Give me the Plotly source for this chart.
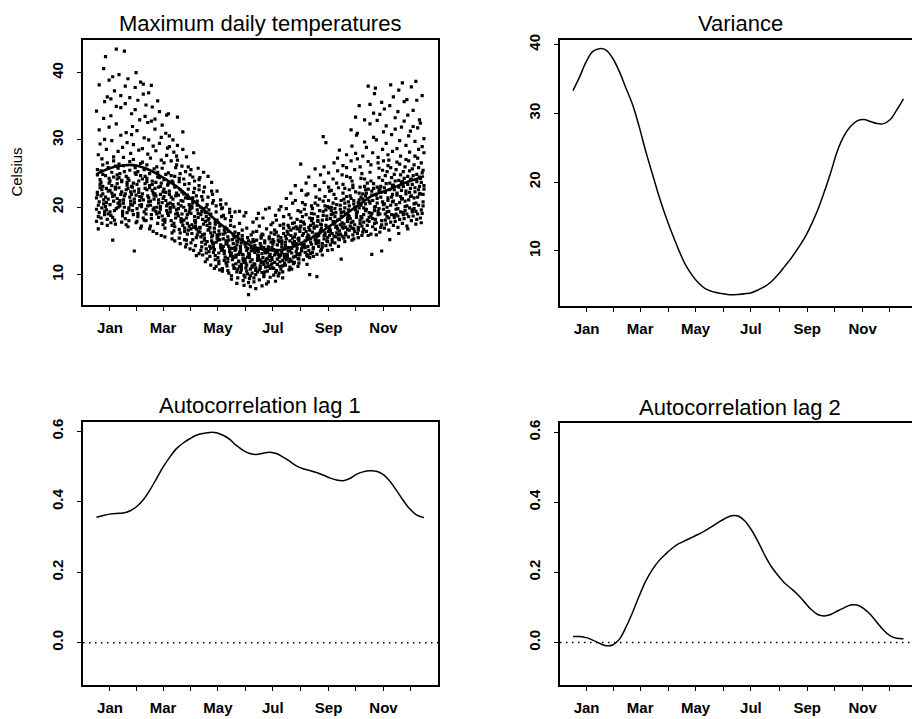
import plotly.graph_objects as go

# ---------------- data ----------------
month_days = [16, 46, 75, 106, 136, 167, 197, 228, 259, 289, 320, 350]
month_labels = ["Jan", "", "Mar", "", "May", "", "Jul", "", "Sep", "", "Nov", ""]

temp_ticks = [10, 20, 30, 40]
acf_ticks = [0.0, 0.2, 0.4, 0.6]
acf_ticktext = ["0.0", "0.2", "0.4", "0.6"]

# maximum daily temperatures, grouped in 5-day bins (bin k -> days 5k+1 .. 5k+5)
temps_by_bin = [
    [21.4, 24.8, 18.6, 38.2, 22.9, 19.7, 25.6, 20.3, 31.5, 23.4, 17.9, 21.9, 27.8, 19.2, 24.1, 34.3, 22.2, 16.8, 20.8, 29.4],
    [23.7, 19.9, 26.3, 21.1, 35.7, 18.4, 22.6, 24.9, 20.5, 30.1, 25.4, 17.6, 23.1, 40.6, 19.4, 21.7, 27.2, 22.0, 33.2, 18.9],
    [20.1, 22.8, 36.4, 19.0, 24.3, 21.5, 28.6, 18.2, 25.9, 23.6, 42.4, 20.7, 17.3, 22.4, 31.9, 24.7, 19.6, 26.6, 21.2, 38.9],
    [22.5, 18.8, 25.2, 39.4, 20.9, 23.9, 17.7, 29.9, 21.6, 24.5, 19.3, 36.1, 22.1, 15.1, 26.9, 20.4, 33.6, 23.2, 18.5, 27.5],
    [19.5, 23.0, 43.5, 21.3, 25.8, 18.1, 22.7, 32.4, 24.2, 20.0, 37.3, 26.1, 19.8, 23.5, 28.3, 21.8, 17.5, 35.0, 24.8, 20.6],
    [24.4, 20.2, 34.8, 22.3, 18.7, 26.4, 21.0, 30.7, 23.8, 19.1, 39.7, 25.0, 21.9, 17.8, 28.9, 22.9, 20.5, 36.6, 24.0, 19.4],
    [21.1, 25.3, 18.3, 31.1, 23.3, 20.6, 43.2, 22.0, 24.6, 19.2, 27.4, 21.7, 35.4, 17.4, 23.7, 26.2, 20.0, 38.0, 22.6, 29.6],
    [22.8, 19.6, 26.8, 20.9, 33.9, 24.3, 18.0, 21.5, 28.0, 23.1, 39.1, 19.9, 25.5, 22.3, 30.8, 17.1, 24.0, 36.3, 20.4, 21.9],
    [20.3, 23.6, 13.5, 25.1, 21.8, 32.0, 18.9, 22.4, 37.8, 24.9, 19.5, 27.1, 21.2, 34.5, 17.7, 23.0, 29.3, 20.7, 25.9, 40.0],
    [23.4, 19.1, 28.5, 21.0, 24.7, 17.9, 35.9, 22.2, 20.3, 26.5, 31.4, 18.6, 23.9, 21.6, 38.6, 19.8, 25.3, 22.7, 33.0, 16.9],
    [21.5, 24.2, 18.4, 30.3, 22.8, 20.1, 26.7, 36.8, 19.3, 23.5, 17.2, 28.7, 21.1, 25.6, 33.5, 20.4, 22.0, 38.3, 18.1, 24.6],
    [19.7, 22.6, 32.6, 20.8, 25.0, 18.0, 23.8, 27.9, 21.4, 16.8, 35.2, 24.3, 20.2, 30.0, 22.9, 19.0, 26.3, 21.7, 37.0, 23.2],
    [20.9, 18.3, 23.4, 29.1, 21.8, 17.2, 38.1, 22.5, 19.6, 25.7, 20.3, 32.8, 23.9, 16.4, 21.2, 27.3, 18.9, 34.9, 22.1, 19.9],
    [22.0, 19.4, 26.0, 17.6, 21.1, 31.6, 23.7, 20.0, 35.8, 18.5, 22.8, 28.4, 16.1, 24.5, 20.6, 33.1, 21.7, 19.0, 25.2, 23.0],
    [19.2, 23.1, 30.4, 20.7, 17.4, 24.4, 21.9, 27.0, 18.7, 22.3, 34.2, 20.1, 15.8, 25.8, 21.3, 29.5, 19.7, 23.6, 32.2, 18.1],
    [21.6, 18.2, 24.9, 20.2, 28.8, 22.7, 16.9, 31.0, 19.5, 23.3, 26.6, 17.8, 21.0, 33.7, 19.1, 24.1, 15.6, 22.2, 27.7, 20.5],
    [18.8, 22.4, 20.0, 26.9, 17.3, 23.5, 30.6, 19.8, 21.5, 16.2, 25.1, 29.0, 20.6, 18.0, 23.9, 33.9, 21.9, 19.3, 24.7, 15.3],
    [20.4, 17.6, 23.0, 19.0, 27.6, 21.2, 16.5, 24.6, 18.4, 22.1, 30.0, 20.0, 15.0, 25.9, 19.6, 23.7, 28.2, 17.1, 21.7, 26.3],
    [19.1, 21.8, 16.7, 25.0, 18.3, 33.4, 20.5, 15.4, 22.6, 17.9, 27.0, 19.8, 23.8, 14.6, 21.0, 29.2, 18.7, 24.3, 16.2, 20.2],
    [17.8, 20.9, 24.2, 16.4, 19.5, 22.3, 28.6, 18.1, 15.2, 21.4, 26.1, 17.3, 20.0, 23.4, 14.1, 19.0, 31.2, 22.0, 16.9, 25.3],
    [18.4, 16.0, 21.3, 19.3, 24.8, 15.1, 17.6, 22.7, 20.4, 13.8, 27.5, 18.9, 16.6, 23.5, 19.7, 14.5, 21.8, 26.0, 17.2, 20.0],
    [16.8, 19.9, 15.2, 22.2, 18.0, 25.6, 17.4, 20.7, 13.6, 23.9, 19.1, 16.1, 21.4, 28.1, 18.6, 14.7, 20.2, 24.5, 17.0, 22.8],
    [17.7, 15.5, 20.3, 18.5, 23.2, 14.3, 16.8, 19.6, 25.8, 13.1, 18.0, 21.7, 15.9, 19.1, 22.6, 17.2, 12.8, 20.9, 16.4, 24.1],
    [16.3, 18.9, 14.8, 21.1, 17.5, 24.4, 15.6, 19.4, 12.9, 22.3, 16.9, 20.0, 14.1, 18.2, 25.2, 17.0, 13.6, 21.6, 15.9, 19.8],
    [15.4, 17.9, 13.8, 20.4, 16.6, 23.0, 14.5, 18.6, 12.3, 21.5, 16.0, 19.2, 13.2, 17.3, 24.6, 15.1, 11.9, 20.0, 14.9, 18.1],
    [16.7, 14.2, 19.0, 15.6, 21.9, 13.4, 17.6, 11.4, 15.0, 20.6, 18.3, 12.7, 16.2, 23.7, 14.7, 19.6, 17.0, 13.9, 22.4, 15.8],
    [14.6, 16.9, 12.8, 19.3, 15.4, 21.0, 13.7, 17.5, 11.2, 18.1, 14.1, 16.3, 12.2, 20.2, 15.9, 13.3, 10.9, 17.9, 14.8, 22.4],
    [15.1, 13.2, 17.2, 14.4, 19.8, 12.5, 16.5, 10.7, 14.0, 18.6, 15.7, 12.0, 16.0, 21.1, 13.6, 17.7, 11.6, 15.2, 20.4, 13.9],
    [13.8, 16.0, 12.1, 18.3, 14.6, 10.5, 15.3, 13.1, 17.0, 11.7, 19.9, 14.2, 16.6, 12.6, 15.0, 10.9, 18.8, 13.5, 16.2, 20.5],
    [14.5, 12.4, 16.4, 13.4, 18.0, 11.3, 15.6, 10.2, 13.9, 17.3, 14.9, 11.9, 15.1, 19.7, 12.8, 16.8, 10.6, 14.2, 19.2, 13.0],
    [13.2, 15.2, 11.4, 17.1, 14.0, 9.8, 12.7, 15.9, 10.9, 13.6, 18.6, 12.2, 14.6, 11.0, 16.3, 9.3, 13.9, 12.5, 15.5, 19.3],
    [12.6, 14.4, 10.8, 16.1, 13.3, 11.6, 15.0, 9.5, 12.0, 17.6, 13.8, 10.4, 14.9, 11.9, 19.4, 12.9, 8.7, 15.7, 13.0, 11.2],
    [13.4, 11.5, 15.3, 12.4, 9.9, 14.2, 10.7, 16.6, 12.9, 8.4, 13.7, 11.1, 15.8, 12.1, 18.7, 10.3, 14.7, 13.0, 9.1, 11.8],
    [12.0, 14.1, 10.5, 15.5, 13.1, 9.6, 11.7, 16.9, 12.6, 7.0, 14.5, 11.0, 13.6, 10.1, 15.0, 12.3, 19.2, 11.4, 13.9, 8.8],
    [13.0, 10.8, 14.8, 12.2, 16.3, 9.4, 11.9, 13.5, 10.2, 15.2, 12.8, 8.2, 14.0, 11.3, 17.8, 12.5, 9.8, 15.9, 11.1, 13.7],
    [11.6, 13.8, 10.0, 15.1, 12.4, 8.9, 14.3, 11.0, 16.4, 12.9, 9.5, 13.3, 10.6, 18.3, 12.1, 14.9, 11.5, 7.9, 13.6, 10.4],
    [12.8, 10.7, 14.6, 11.8, 16.0, 13.4, 9.2, 12.2, 15.4, 10.3, 19.1, 13.9, 11.3, 14.2, 8.3, 12.6, 17.2, 10.9, 15.7, 13.1],
    [11.9, 14.0, 10.4, 13.2, 16.8, 12.5, 9.7, 15.0, 11.1, 13.7, 18.4, 10.0, 14.7, 12.0, 8.6, 15.9, 11.5, 13.5, 19.7, 12.3],
    [13.3, 11.2, 15.3, 12.1, 17.4, 10.5, 14.1, 12.7, 9.6, 16.2, 11.7, 13.8, 19.9, 10.9, 14.8, 12.4, 8.9, 15.6, 13.0, 11.4],
    [12.5, 14.5, 10.9, 16.6, 13.2, 11.6, 15.2, 9.9, 12.9, 18.8, 14.0, 11.0, 13.7, 16.0, 10.3, 12.2, 17.7, 14.9, 11.8, 9.0],
    [13.6, 11.5, 15.7, 12.6, 17.3, 10.6, 14.4, 13.0, 19.6, 11.9, 16.3, 12.3, 9.8, 14.9, 11.2, 18.1, 13.4, 15.1, 10.2, 12.8],
    [12.9, 15.0, 11.3, 16.9, 13.8, 10.8, 14.6, 12.1, 18.6, 11.7, 15.5, 13.3, 9.5, 16.1, 12.5, 20.1, 14.1, 10.4, 17.5, 13.0],
    [14.3, 12.2, 16.4, 13.5, 18.9, 11.4, 15.3, 12.8, 17.3, 10.7, 14.8, 21.3, 13.0, 16.0, 11.9, 15.7, 19.8, 12.5, 14.0, 17.0],
    [13.5, 15.8, 12.0, 17.6, 14.4, 11.1, 16.6, 13.2, 20.6, 12.6, 15.0, 18.4, 10.8, 14.7, 16.9, 12.3, 22.1, 13.9, 15.4, 11.6],
    [14.9, 12.7, 17.1, 13.9, 19.5, 11.8, 16.0, 14.3, 18.2, 12.4, 15.6, 23.2, 13.4, 16.8, 11.2, 17.7, 21.0, 14.6, 13.0, 15.3],
    [15.4, 13.1, 17.9, 14.5, 20.7, 12.3, 16.4, 26.4, 13.8, 18.6, 15.0, 12.9, 17.2, 22.5, 14.1, 11.7, 16.9, 19.3, 13.5, 15.8],
    [14.7, 16.8, 13.3, 18.9, 15.5, 12.2, 17.5, 14.0, 21.8, 13.0, 16.1, 19.7, 15.0, 23.6, 12.8, 17.8, 14.4, 20.4, 16.4, 11.5],
    [15.9, 13.6, 18.4, 14.8, 20.2, 12.7, 17.0, 10.0, 15.3, 19.1, 14.2, 24.5, 16.6, 13.1, 18.0, 22.0, 15.7, 12.5, 17.3, 14.5],
    [16.3, 14.0, 19.0, 15.2, 21.5, 13.3, 17.6, 15.7, 25.7, 14.6, 18.3, 12.7, 16.9, 23.2, 15.0, 19.8, 13.8, 17.1, 20.6, 16.0],
    [15.6, 17.9, 14.2, 19.5, 16.5, 9.7, 18.6, 15.0, 22.6, 13.5, 17.2, 20.3, 14.7, 16.2, 24.8, 13.0, 18.0, 15.8, 21.2, 17.5],
    [16.9, 14.6, 19.4, 15.8, 21.6, 13.7, 18.1, 30.5, 15.3, 20.2, 16.6, 14.1, 18.8, 23.7, 15.9, 17.4, 12.9, 20.9, 26.0, 16.2],
    [17.3, 15.0, 20.1, 16.4, 22.4, 14.3, 18.7, 13.6, 25.1, 15.8, 19.6, 17.0, 14.9, 21.0, 16.8, 29.6, 18.2, 15.5, 23.0, 19.9],
    [16.6, 18.9, 15.2, 20.6, 17.5, 14.4, 19.5, 16.1, 24.2, 15.7, 18.3, 22.5, 14.8, 17.9, 26.6, 16.3, 20.0, 13.7, 19.1, 21.9],
    [17.8, 15.6, 20.4, 16.8, 22.9, 14.7, 19.2, 17.2, 25.4, 15.9, 18.6, 21.3, 16.2, 27.3, 14.2, 19.8, 17.0, 23.6, 18.1, 15.3],
    [18.2, 16.0, 21.0, 17.1, 23.4, 15.2, 19.7, 12.3, 17.7, 26.2, 16.5, 20.3, 18.7, 15.7, 22.1, 28.5, 17.4, 19.2, 24.8, 16.9],
    [17.5, 19.9, 16.2, 21.6, 18.4, 15.4, 20.6, 17.0, 24.6, 16.7, 19.3, 22.8, 15.9, 27.8, 18.0, 21.2, 14.9, 19.0, 25.9, 17.9],
    [18.8, 16.6, 21.7, 17.7, 23.9, 15.6, 20.2, 18.3, 31.5, 16.9, 19.6, 22.6, 17.2, 26.9, 15.1, 20.8, 18.6, 24.4, 21.3, 29.1],
    [17.9, 20.5, 16.4, 22.3, 19.1, 15.9, 21.0, 17.4, 28.0, 18.5, 23.3, 16.8, 20.0, 33.4, 18.9, 22.9, 15.3, 25.6, 19.6, 30.7],
    [19.3, 17.0, 22.1, 18.1, 24.3, 16.1, 20.7, 35.1, 17.6, 21.5, 27.2, 15.5, 19.9, 23.0, 18.6, 31.0, 16.6, 21.1, 26.0, 20.3],
    [18.4, 21.2, 16.7, 23.1, 19.5, 15.8, 22.0, 17.8, 29.7, 20.5, 25.0, 16.3, 18.9, 33.0, 21.7, 17.2, 27.6, 19.9, 24.2, 22.6],
    [19.7, 17.3, 22.7, 18.5, 25.2, 16.4, 21.3, 38.0, 17.9, 20.6, 28.9, 23.6, 15.8, 19.2, 32.4, 22.1, 18.1, 26.8, 20.9, 35.3],
    [18.7, 21.8, 17.1, 23.5, 20.0, 16.0, 22.4, 18.3, 30.4, 19.5, 26.3, 13.0, 21.0, 34.0, 17.6, 23.9, 19.1, 28.1, 22.8, 36.9],
    [20.1, 17.7, 23.0, 18.9, 25.8, 16.7, 21.8, 32.9, 19.4, 22.5, 37.7, 15.9, 20.6, 27.4, 24.4, 18.2, 30.0, 21.3, 26.6, 19.8],
    [19.0, 22.2, 17.4, 24.0, 20.4, 16.3, 23.1, 13.5, 28.6, 19.7, 33.8, 21.5, 18.0, 25.5, 31.2, 22.7, 17.0, 35.6, 20.8, 26.9],
    [20.5, 18.1, 23.5, 19.3, 26.2, 16.9, 22.2, 29.5, 18.6, 21.4, 34.6, 24.7, 17.5, 20.0, 27.8, 22.9, 19.0, 32.1, 25.3, 21.0],
    [19.4, 22.6, 17.8, 24.4, 20.8, 16.6, 23.6, 38.2, 18.9, 21.9, 27.0, 15.2, 20.3, 30.8, 23.2, 18.4, 35.1, 25.9, 21.5, 28.3],
    [20.9, 18.5, 23.9, 19.7, 26.7, 17.3, 22.6, 31.6, 19.0, 21.8, 36.4, 24.9, 17.9, 20.4, 28.7, 23.3, 18.8, 33.3, 25.6, 22.1],
    [19.8, 23.0, 18.2, 24.8, 21.2, 17.0, 24.0, 29.9, 19.3, 22.5, 34.2, 16.1, 20.7, 27.6, 23.7, 18.7, 37.4, 26.4, 21.6, 31.9],
    [21.3, 18.9, 24.3, 20.1, 27.1, 17.6, 23.1, 32.8, 19.5, 22.0, 38.5, 25.3, 18.3, 20.9, 29.2, 23.8, 19.2, 35.7, 26.0, 22.4],
    [20.2, 23.4, 18.6, 25.4, 21.6, 17.2, 24.6, 30.6, 19.9, 22.8, 36.0, 16.8, 21.1, 28.2, 24.1, 19.0, 33.7, 26.9, 22.2, 31.3],
    [21.7, 19.3, 24.7, 20.5, 27.6, 18.0, 23.4, 34.4, 19.8, 22.3, 37.9, 25.7, 18.7, 21.4, 29.8, 24.2, 19.6, 32.0, 26.3, 22.9],
    [20.6, 23.8, 19.0, 25.9, 22.0, 17.5, 24.9, 31.8, 20.3, 23.1, 38.7, 18.2, 21.5, 28.6, 24.5, 19.4, 35.9, 27.3, 22.6, 33.0],
    [22.0, 19.6, 25.1, 20.8, 28.1, 18.4, 23.7, 36.6, 20.2, 22.7, 32.5, 26.6, 19.1, 21.9, 30.2, 24.3, 17.7, 29.0, 25.5, 23.2],
]

# smoothed mean curve and lag-1 autocorrelation (left column)
days_left = [1, 8.4, 15.8, 23.2, 30.6, 38.0, 45.4, 52.8, 60.3, 67.7, 75.1, 82.5, 89.9,
             97.3, 104.7, 112.1, 119.5, 126.9, 134.3, 141.7, 149.1, 156.5, 164.0, 171.4,
             178.8, 186.2, 193.6, 201.0, 208.4, 215.8, 223.2, 230.6, 238.0, 245.4, 252.8,
             260.2, 267.7, 275.1, 282.5, 289.9, 297.3, 304.7, 312.1, 319.5, 326.9, 334.3,
             341.7, 349.1, 356.5, 365]
smooth_temp = [24.9, 25.4, 25.8, 26.1, 26.2, 26.3, 26.2, 25.9, 25.5, 25.0, 24.4, 23.75,
               23.1, 22.3, 21.4, 20.6, 19.7, 18.9, 18.0, 17.2, 16.4, 15.6, 14.95, 14.4,
               14.0, 13.7, 13.6, 13.6, 13.7, 14.0, 14.3, 14.8, 15.3, 15.9, 16.5, 17.2,
               17.9, 18.6, 19.4, 20.1, 20.8, 21.5, 22.0, 22.3, 22.7, 23.1, 23.5, 23.9,
               24.2, 24.6]
acf_lag1 = [0.356, 0.361, 0.365, 0.367, 0.368, 0.374, 0.386, 0.405, 0.433, 0.466, 0.499,
            0.527, 0.551, 0.567, 0.579, 0.589, 0.594, 0.597, 0.596, 0.589, 0.577, 0.560,
            0.546, 0.537, 0.534, 0.538, 0.541, 0.537, 0.527, 0.515, 0.502, 0.494, 0.489,
            0.483, 0.476, 0.468, 0.462, 0.460, 0.466, 0.478, 0.485, 0.488, 0.487, 0.478,
            0.459, 0.433, 0.405, 0.380, 0.363, 0.355]

# variance and lag-2 autocorrelation (right column)
days_right = [1, 8.3, 15.6, 22.8, 30.1, 37.4, 44.7, 52.0, 59.2, 66.5, 73.8, 81.1, 88.4,
              95.6, 102.9, 110.2, 117.5, 124.8, 132.0, 139.3, 146.6, 153.9, 161.2, 168.4,
              175.7, 183.0, 190.3, 197.6, 204.8, 212.1, 219.4, 226.7, 234.0, 241.2, 248.5,
              255.8, 263.1, 270.4, 277.6, 284.9, 292.2, 299.5, 306.8, 314.0, 321.3, 328.6,
              335.9, 343.2, 350.4, 357.7, 365]
variance = [33.3, 35.3, 37.5, 39.0, 39.4, 39.2, 38.0, 36.1, 33.7, 31.3, 28.1, 24.5, 21.2,
            18.0, 15.1, 12.5, 10.1, 8.0, 6.5, 5.3, 4.5, 4.1, 3.85, 3.7, 3.6, 3.65, 3.75,
            3.9, 4.3, 4.8, 5.5, 6.5, 7.7, 8.9, 10.3, 11.8, 13.7, 15.9, 18.5, 21.4, 24.5,
            26.7, 28.1, 28.9, 29.1, 28.8, 28.5, 28.5, 29.1, 30.5, 32.1]
acf_lag2 = [0.017, 0.017, 0.014, 0.007, -0.002, -0.009, -0.007, 0.009, 0.043, 0.085, 0.132,
            0.175, 0.208, 0.233, 0.252, 0.269, 0.282, 0.291, 0.300, 0.309, 0.319, 0.331,
            0.343, 0.354, 0.362, 0.361, 0.347, 0.321, 0.288, 0.250, 0.217, 0.192, 0.170,
            0.154, 0.137, 0.116, 0.095, 0.080, 0.076, 0.080, 0.090, 0.099, 0.107, 0.107,
            0.097, 0.080, 0.057, 0.035, 0.019, 0.012, 0.011]

titles = ["Maximum daily temperatures", "Variance", "Autocorrelation lag 1", "Autocorrelation lag 2"]
y_label = "Celsius"

# ---------------- figure ----------------
scatter_x, scatter_y = [], []
for k, row in enumerate(temps_by_bin):
    for i, v in enumerate(row):
        scatter_x.append(5 * k + 1 + (i % 5))
        scatter_y.append(v)

FONT = "Liberation Sans, Arial, Helvetica, sans-serif"
fig = go.Figure()

fig.add_trace(go.Scatter(x=scatter_x, y=scatter_y, mode="markers", xaxis="x", yaxis="y",
                         marker=dict(color="black", size=3.2, symbol="square", line=dict(width=0)),
                         hoverinfo="skip", showlegend=False))
fig.add_trace(go.Scatter(x=days_left, y=smooth_temp, mode="lines", xaxis="x", yaxis="y",
                         line=dict(color="black", width=2.6, shape="spline"), showlegend=False))
fig.add_trace(go.Scatter(x=days_right, y=variance, mode="lines", xaxis="x2", yaxis="y2",
                         line=dict(color="black", width=1.5, shape="spline"), showlegend=False))
fig.add_trace(go.Scatter(x=days_left, y=acf_lag1, mode="lines", xaxis="x3", yaxis="y3",
                         line=dict(color="black", width=1.5, shape="spline"), showlegend=False))
fig.add_trace(go.Scatter(x=days_right, y=acf_lag2, mode="lines", xaxis="x4", yaxis="y4",
                         line=dict(color="black", width=1.5, shape="spline"), showlegend=False))

W, H = 912, 719
left_dom = [83 / W, 438 / W]
right_dom = [560 / W, 1.0]
left_range = [-14.0, 380.6]
right_range = [-13.3, 374.4]
TICKFONT = dict(family=FONT, size=15, color="black", weight="bold")


def xax(dom, rng, anchor):
    return dict(domain=dom, range=rng, anchor=anchor, tickmode="array",
                tickvals=month_days, ticktext=month_labels, ticks="outside", ticklen=4,
                tickwidth=1.3, tickcolor="black", showline=True, linewidth=1.6,
                linecolor="black", mirror=True, showgrid=False, zeroline=False,
                tickfont=TICKFONT, ticklabelstandoff=4)


def yax(dom, rng, anchor, vals, text, mirror=True):
    return dict(domain=dom, range=rng, anchor=anchor, tickmode="array", tickvals=vals,
                ticktext=text, tickangle=-90, ticks="outside", ticklen=4, tickwidth=1.3,
                tickcolor="black", showline=True, linewidth=1.6, linecolor="black",
                mirror=mirror, showgrid=False, zeroline=False,
                tickfont=TICKFONT, ticklabelstandoff=8)


fig.update_layout(
    width=W, height=H, autosize=False,
    margin=dict(l=0, r=0, t=0, b=0),
    paper_bgcolor="white", plot_bgcolor="white",
    showlegend=False,
    xaxis=xax(left_dom, left_range, "y"),
    yaxis=yax([1 - 302 / H, 1 - 34 / H], [5.4, 44.9], "x", temp_ticks, [str(t) for t in temp_ticks]),
    xaxis2=xax(right_dom, right_range, "y2"),
    yaxis2=yax([1 - 303 / H, 1 - 34 / H], [1.9, 40.7], "x2", temp_ticks, [str(t) for t in temp_ticks], mirror=False),
    xaxis3=xax(left_dom, left_range, "y3"),
    yaxis3=yax([1 - 685 / H, 1 - 419 / H], [-0.121, 0.628], "x3", acf_ticks, acf_ticktext),
    xaxis4=xax(right_dom, right_range, "y4"),
    yaxis4=yax([1 - 685 / H, 1 - 421 / H], [-0.122, 0.625], "x4", acf_ticks, acf_ticktext, mirror=False),
)

# zero reference lines (dotted) in the autocorrelation panels
for xr, yr in [("x3", "y3"), ("x4", "y4")]:
    fig.add_shape(type="line", xref=xr + " domain", yref=yr, x0=0, x1=1, y0=0, y1=0,
                  line=dict(color="black", width=1.5, dash="1.5px,4.5px"))

title_pos = [(260, 18), (740, 18), (260, 403), (740, 405)]
for t, (px, py) in zip(titles, title_pos):
    fig.add_annotation(text=t, x=px / W, y=1 - py / H, xref="paper", yref="paper",
                       showarrow=False, xanchor="center", yanchor="middle",
                       font=dict(family=FONT, size=22, color="black"))

fig.add_annotation(text=y_label, x=17 / W, y=1 - 168 / H, xref="paper", yref="paper",
                   showarrow=False, textangle=-90, xanchor="center", yanchor="middle",
                   font=dict(family=FONT, size=15, color="black"))

fig.write_html("out.html")
